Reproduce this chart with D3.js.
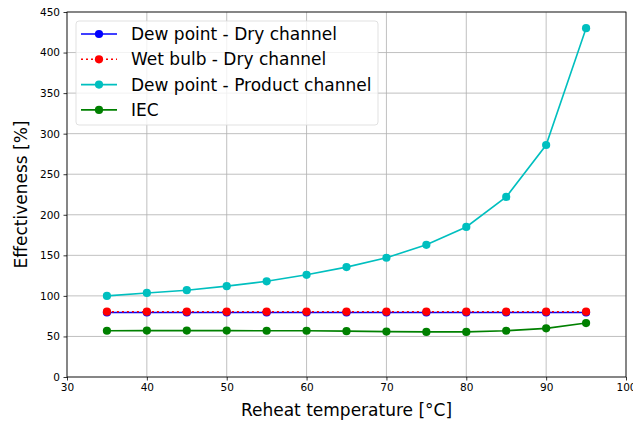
<!DOCTYPE html>
<html>
<head>
<meta charset="utf-8">
<script src="https://cdn.jsdelivr.net/npm/d3@7"></script>
<style>
  body{margin:0;background:#fff}
  text{font-family:"DejaVu Sans",sans-serif}
</style>
</head>
<body>
<svg id="chart" width="633" height="421"></svg>
<script>
// reheat temperatures
const temps=[35,40,45,50,55,60,65,70,75,80,85,90,95]
const dewDry=[79.5,79.5,79.5,79.5,79.5,79.5,79.5,79.5,79.5,79.5,79.5,79.5,79.5]
const wetDry=[80.5,80.5,80.5,80.5,80.5,80.5,80.5,80.5,80.5,80.5,80.5,80.5,80.5]
const dewProduct=[100,103.6,107,112,118,126,135.5,147,163,185,222,286,430]
const iec=[57,57.2,57.2,57.2,57,57,56.5,56,55.6,55.6,57,60,66.5]
const xTicks=[30,40,50,60,70,80,90,100]
const yTicks=[0,50,100,150,200,250,300,350,400,450]

const series=[
  {name:'Dew point - Dry channel',values:dewDry,color:'#0000ff',dash:null},
  {name:'Wet bulb - Dry channel',values:wetDry,color:'#ff0000',dash:'2,3'},
  {name:'Dew point - Product channel',values:dewProduct,color:'#00bfbf',dash:null},
  {name:'IEC',values:iec,color:'#008000',dash:null}
]

const m={left:67,right:7,top:12,bottom:44}
const W=633,H=421
const svg=d3.select('#chart')

const x=d3.scaleLinear().domain([30,100]).range([m.left,W-m.right])
const y=d3.scaleLinear().domain([0,450]).range([H-m.bottom,m.top])

// grid
svg.append('g')
  .selectAll('line.gx')
  .data(xTicks)
  .enter()
  .append('line')
  .attr('x1',d=>x(d)).attr('x2',d=>x(d))
  .attr('y1',y(0)).attr('y2',y(450))
  .attr('stroke','#b0b0b0').attr('stroke-width',0.8)
svg.append('g')
  .selectAll('line.gy')
  .data(yTicks)
  .enter()
  .append('line')
  .attr('x1',x(30)).attr('x2',x(100))
  .attr('y1',d=>y(d)).attr('y2',d=>y(d))
  .attr('stroke','#b0b0b0').attr('stroke-width',0.8)

// axes
const xAxis=svg.append('g')
  .attr('transform','translate(0,'+y(0)+')')
  .call(d3.axisBottom(x).tickValues(xTicks).tickSize(3.5).tickPadding(3.5))
const yAxis=svg.append('g')
  .attr('transform','translate('+x(30)+',0)')
  .call(d3.axisLeft(y).tickValues(yTicks).tickSize(3.5).tickPadding(3.5))
;[xAxis,yAxis].forEach(a=>{
  a.selectAll('text').attr('font-size','10.5px').attr('fill','#000').attr('font-family','DejaVu Sans')
  a.selectAll('.domain').remove()
  a.selectAll('line').attr('stroke','#000').attr('stroke-width',0.8)
})

// frame
svg.append('rect')
  .attr('x',x(30)).attr('y',y(450))
  .attr('width',x(100)-x(30)).attr('height',y(0)-y(450))
  .attr('fill','none').attr('stroke','#000').attr('stroke-width',0.8)

const line=d3.line().x((d,i)=>x(temps[i])).y(d=>y(d))

const plot=svg.append('g')
series.forEach(s=>{
  plot.append('path')
    .datum(s.values)
    .attr('d',line)
    .attr('fill','none')
    .attr('stroke',s.color)
    .attr('stroke-width',1.6)
    .attr('stroke-dasharray',s.dash)
  plot.append('g')
    .selectAll('circle')
    .data(s.values)
    .enter()
    .append('circle')
    .attr('cx',(d,i)=>x(temps[i]))
    .attr('cy',d=>y(d))
    .attr('r',4.1)
    .attr('fill',s.color)
})

// axis labels
svg.append('text')
  .attr('x',(x(30)+x(100))/2).attr('y',416)
  .attr('text-anchor','middle').attr('font-size','17px')
  .text('Reheat temperature [°C]')
svg.append('text')
  .attr('transform','translate(27,'+((y(0)+y(450))/2)+') rotate(-90)')
  .attr('text-anchor','middle').attr('font-size','17px')
  .text('Effectiveness [%]')

// legend
const lg=svg.append('g').attr('transform','translate(76,21)')
lg.append('rect')
  .attr('width',302).attr('height',104).attr('rx',3)
  .attr('fill','#fff').attr('fill-opacity',0.8)
  .attr('stroke','#d9d9d9').attr('stroke-width',0.8)
series.forEach((s,i)=>{
  const g=lg.append('g').attr('transform','translate(0,'+(13+i*25.3)+')')
  g.append('line')
    .attr('x1',5).attr('x2',41).attr('y1',0).attr('y2',0)
    .attr('stroke',s.color).attr('stroke-width',1.6)
    .attr('stroke-dasharray',s.dash)
  g.append('circle').attr('cx',23).attr('cy',0).attr('r',4.1).attr('fill',s.color)
  g.append('text')
    .attr('x',55).attr('y',0).attr('dy','0.35em')
    .attr('font-size','17px')
    .text(s.name)
})
</script>
</body>
</html>
